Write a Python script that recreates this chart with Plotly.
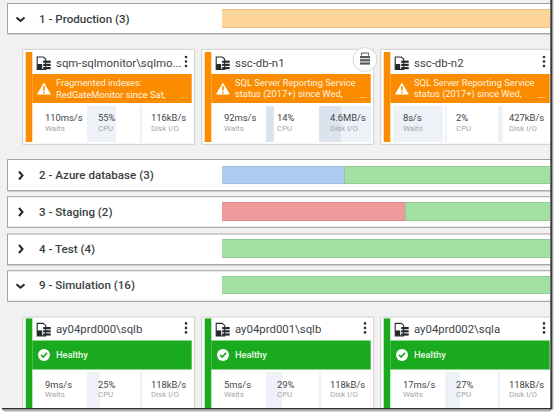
import plotly.graph_objects as go

# groups and how many instances in each state
group_names = ["1 - Production (3)", "2 - Azure database (3)", "3 - Staging (2)", "4 - Test (4)", "9 - Simulation (16)"]
group_warning = [3, 0, 0, 0, 0]
group_unknown = [0, 1, 0, 0, 0]
group_critical = [0, 0, 1, 0, 0]
group_healthy = [0, 2, 1, 4, 16]
group_open = [True, False, False, False, True]

# cards
card_names = ["sqm-sqlmonitor\\sqlmo...", "ssc-db-n1", "ssc-db-n2", "ay04prd000\\sqlb", "ay04prd001\\sqlb", "ay04prd002\\sqla"]
card_line1 = ["Fragmented indexes:", "SQL Server Reporting Service", "SQL Server Reporting Service", "Healthy", "Healthy", "Healthy"]
card_line2 = ["RedGateMonitor since Sat,", "status (2017+) since Wed,", "status (2017+) since Wed,", "", "", ""]
waits_text = ["110ms/s", "92ms/s", "8s/s", "9ms/s", "5ms/s", "17ms/s"]
cpu_text = ["55%", "14%", "2%", "25%", "29%", "27%"]
disk_text = ["116kB/s", "4.6MB/s", "427kB/s", "118kB/s", "118kB/s", "118kB/s"]
# how full the background of each metric cell is, 0..1
waits_fill = [0, 0, 1, 0, 0, 0]
cpu_fill = [0.55, 0.14, 0.02, 0.25, 0.29, 0.27]
disk_fill = [0.03, 1, 0.09, 0.03, 0.03, 0.03]
disk_peak = [0, 0.41, 0, 0, 0, 0]

# layout, pixels of the screenshot
W, H = 554, 412
panels = [(3.5, 33), (159.5, 190), (196.7, 226.7), (234, 264), (270.7, 300.7)]
bar_mid = [19, 175.5, 212, 249, 285.7]
BAR_LEFT, BAR_RIGHT, BAR_FULL = 222, 550, 368
card_left = [22.7, 201.7, 380.7, 22.7, 201.7, 380.7]
card_top = [49.3, 49.3, 49.3, 317, 317, 317]
banner_top = [74, 74, 74, 340.4, 340.4, 340.4]
CARD_W = 172
HOVER_CARD = 1
ORANGE, GREEN = "#fb8c00", "#1aaa1f"
LIGHT, DARK = "#eef2f8", "#dae3ee"
INK = "#3f4449"

fig = go.Figure()
shapes = []
notes = []


def rect(x0, y0, x1, y1, fill, line=None, lw=1, layer="below"):
    shapes.append(dict(type="rect", xref="x", yref="y", x0=x0, y0=y0, x1=x1, y1=y1, fillcolor=fill,
                       line=dict(color=line or fill, width=lw if line else 0), layer=layer))


def path(d, fill=None, line=None, lw=1.5, layer="above"):
    shapes.append(dict(type="path", xref="x", yref="y", path=d, fillcolor=fill or "rgba(0,0,0,0)",
                       line=dict(color=line or "rgba(0,0,0,0)", width=lw if line else 0), layer=layer))


def circle(cx, cy, r, fill, line=None, lw=1):
    shapes.append(dict(type="circle", xref="x", yref="y", x0=cx - r, x1=cx + r, y0=cy - r, y1=cy + r, fillcolor=fill,
                       line=dict(color=line or fill, width=lw if line else 0), layer="above"))


def text(x, y, s, size, color, weight=400, anchor="left"):
    # annotations have a small inner pad, hence the -2
    notes.append(dict(x=x - 2, y=y, xref="x", yref="y", text=s, showarrow=False, xanchor=anchor, yanchor="middle",
                      font=dict(family="Roboto", size=size, color=color, weight=weight)))


def db_stack(x, y, color, w=7.5):
    for k in range(3):
        rect(x, y + k * 3.2, x + w, y + k * 3.2 + 2.2, color, layer="above")


# group rows
for i, name in enumerate(group_names):
    top, bottom = panels[i]
    rect(7.5, top, W, bottom + 0.8, "#ffffff", line="#a3a3a3", lw=1)
    rect(7.5, bottom, W, bottom + 1.2, "#a8a8a8")
    text(39, bar_mid[i] - 0.3, name, 11.6, "#3a3f44", weight=500)
    m = bar_mid[i]
    if group_open[i]:
        path(f"M 16.5 {m - 1.5} L 20.5 {m + 2} L 24.5 {m - 1.5}", line="#22282e", lw=2)
    else:
        path(f"M 19 {m - 4} L 22.5 {m} L 19 {m + 4}", line="#22282e", lw=2)

# stacked status strip, cut off by the window like in the screenshot
totals = [a + b + c + d for a, b, c, d in zip(group_warning, group_unknown, group_critical, group_healthy)]
base = [0.0] * len(totals)
for counts, color, edge in [(group_warning, "#ffd699", "#eec184"), (group_unknown, "#aecbf0", "#9fbce0"),
                            (group_critical, "#ec9a9c", "#d98b8d"), (group_healthy, "#a2dfa2", "#90cc92")]:
    share = [c / t for c, t in zip(counts, totals)]
    fig.add_trace(go.Bar(y=bar_mid, x=share, base=base, orientation="h", width=17.5, xaxis="x2", yaxis="y",
                         marker=dict(color=color, line=dict(color=edge, width=1)), hoverinfo="skip", showlegend=False))
    base = [b + s for b, s in zip(base, share)]

# cards
for i, name in enumerate(card_names):
    x0, y0, by = card_left[i], card_top[i], banner_top[i]
    color = ORANGE if i < 3 else GREEN
    rect(x0, y0, x0 + CARD_W, y0 + 95 if i < 3 else H + 4, "#ffffff", line="#cfcfcf", lw=1)
    rect(x0 + 3, by - 22, x0 + 9.6, by + 68 if i < 3 else H + 4, color)
    rect(x0 + 9.6, by, min(x0 + CARD_W - 3, W), by + 29, color)
    # title and server icon
    text(x0 + 33.5, by - 11, name, 11.4, INK)
    ix, iy = x0 + 14.5, by - 17
    path(f"M {ix} {iy} L {ix + 6} {iy} L {ix + 8.5} {iy + 2} L {ix + 8.5} {iy + 12.5} L {ix} {iy + 12.5} Z",
         fill="#ffffff", line="#26292c", lw=1.1)
    rect(ix, iy + 7, ix + 5, iy + 12.5, "#26292c", layer="above")
    db_stack(ix + 6, iy + 3.6, "#26292c")
    for dy in (-5, -0.5, 4):
        circle(x0 + 163.3, by - 12 + dy, 1.3, "#2c3034")
    # banner
    if i < 3:
        bx = x0 + 21.2
        path(f"M {bx} {by + 8.5} L {bx + 7} {by + 20.5} L {bx - 7} {by + 20.5} Z", fill="#ffffff")
        path(f"M {bx} {by + 12} L {bx} {by + 16.5}", line=ORANGE, lw=1.6)
        circle(bx, by + 18.5, 0.9, ORANGE)
        text(x0 + 33.3, by + 8.5, card_line1[i], 9.3, "#fff3e0")
        text(x0 + 33.3, by + 20, card_line2[i], 9.3, "#fff3e0")
        text(x0 + 157, by + 20, "...", 9.3, "#fff3e0")
    else:
        cx, cy = x0 + 21.3, by + 14.5
        circle(cx, cy, 6, "#ffffff")
        path(f"M {cx - 3} {cy} L {cx - 0.8} {cy + 2.2} L {cx + 3} {cy - 2}", line=GREEN, lw=1.6)
        text(x0 + 33.3, by + 14.5, card_line1[i], 9.3, "#e8f8e8", weight=500)
    # metric texts
    for dx, value, label in [(22.3, waits_text[i], "Waits"), (75.3, cpu_text[i], "CPU"), (128.3, disk_text[i], "Disk I/O")]:
        text(x0 + dx, by + 43.7, value, 9.4, INK)
        text(x0 + dx, by + 54.3, label, 7.9, "#a2a6aa")

# metric cell backgrounds
CELL_H = 36
cell_mid = [b + 32 + CELL_H / 2 for b in banner_top]
cells = [(waits_fill, 12.3, 49.7), (cpu_fill, 64.6, 52.7), (disk_fill, 117.6, 52)]
for fills, offset, cell_w in cells:
    colors = [DARK if i == HOVER_CARD and fills is not disk_fill else LIGHT for i in range(6)]
    fig.add_trace(go.Bar(y=cell_mid, x=[f * cell_w for f in fills], base=[c + offset for c in card_left], orientation="h",
                         width=CELL_H, marker=dict(color=colors, line=dict(width=0)), hoverinfo="skip", showlegend=False))
fig.add_trace(go.Bar(y=cell_mid, x=[f * 52 for f in disk_peak], base=[c + 117.6 for c in card_left], orientation="h",
                     width=CELL_H, marker=dict(color=DARK, line=dict(width=0)), hoverinfo="skip", showlegend=False))

# floating icon on hovered card
circle(365, 59.5, 12, "#ffffff", line="#d8d8d8", lw=1)
db_stack(360, 56, "#55595d", w=10)
path("M 361.5 55.5 L 361.5 53 L 368.5 53 L 368.5 55.5", line="#55595d", lw=1)

# window edge and its shadow
rect(0, 408, W, H, "#ffffff", layer="above")
rect(2, 408, 551, 409.6, "#2b2b2b", layer="above")
rect(3, 409.6, 551, 411, "#a8a8a8", layer="above")
rect(4, 411, 551, H, "#dcdcdc", layer="above")
rect(550.3, 0, 552, 409.6, "#3a3a3a", layer="above")
rect(552, 0, 553, 409.6, "#a0a0a0", layer="above")
rect(553, 0, W, 409.6, "#e0e0e0", layer="above")

fig.update_layout(
    width=W, height=H, margin=dict(l=0, r=0, t=0, b=0), autosize=False,
    paper_bgcolor="#f1f1f1", plot_bgcolor="rgba(0,0,0,0)", barmode="overlay", bargap=0, showlegend=False,
    shapes=shapes, annotations=notes,
    xaxis=dict(range=[0, W], visible=False, domain=[0, 1], fixedrange=True),
    xaxis2=dict(range=[0, (BAR_RIGHT - BAR_LEFT) / BAR_FULL], domain=[BAR_LEFT / W, BAR_RIGHT / W], visible=False,
                anchor="y", fixedrange=True),
    yaxis=dict(range=[H, 0], visible=False, domain=[0, 1], fixedrange=True),
)
fig.write_html("out.html", config={"displayModeBar": False}, post_script="document.body.style.margin='0';")
